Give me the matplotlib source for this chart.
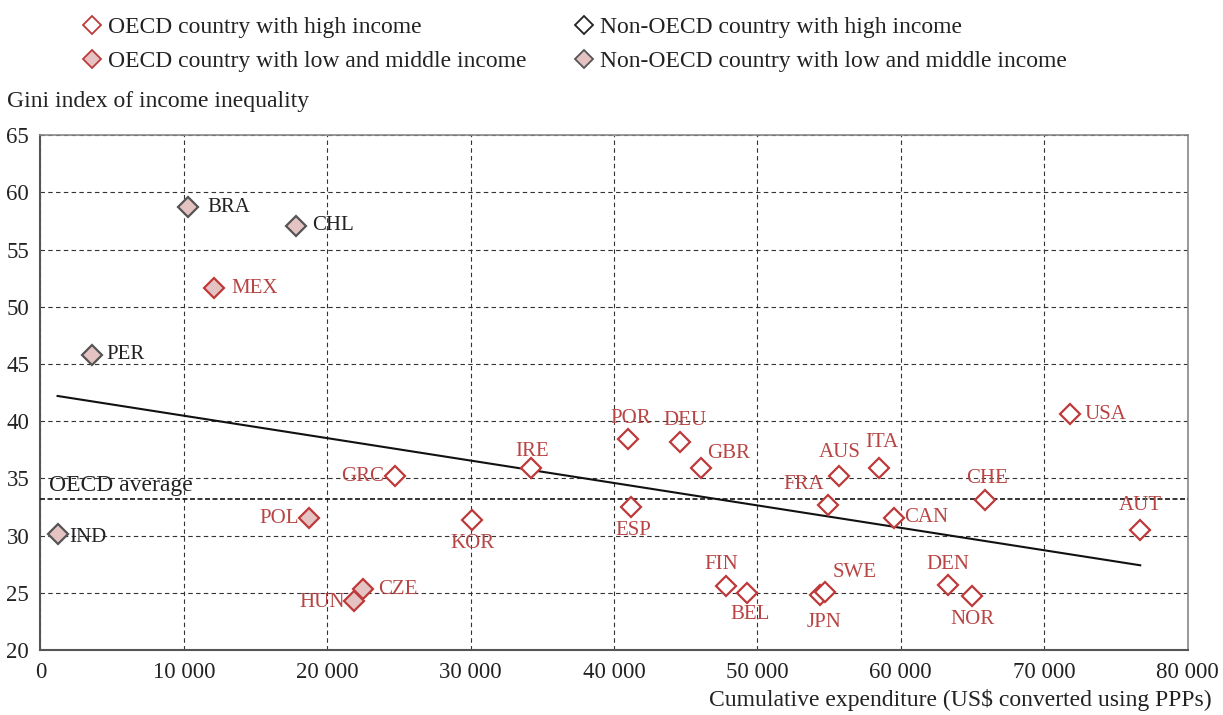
import matplotlib.pyplot as plt
from matplotlib.lines import Line2D

plt.rcParams['font.family'] = ['Liberation Serif', 'DejaVu Serif']

# data
countries = ['BRA', 'CHL', 'MEX', 'PER', 'IND', 'POL', 'HUN', 'CZE', 'GRC', 'KOR',
             'IRE', 'POR', 'ESP', 'DEU', 'GBR', 'FIN', 'BEL', 'JPN', 'SWE', 'FRA',
             'AUS', 'ITA', 'CAN', 'DEN', 'NOR', 'CHE', 'USA', 'AUT']
expenditure = [10300, 17800, 12100, 3600, 1200, 18700, 21900, 22500, 24700, 30100,
               34200, 41000, 41200, 44600, 46100, 47800, 49300, 54400, 54700, 54900,
               55700, 58500, 59500, 63300, 65000, 65900, 71800, 76700]
gini = [58.7, 57.1, 51.6, 45.8, 30.1, 31.5, 24.3, 25.3, 35.2, 31.4,
        35.9, 38.4, 32.5, 38.2, 35.9, 25.6, 25.0, 24.8, 25.1, 32.7,
        35.2, 35.9, 31.5, 25.7, 24.7, 33.1, 40.6, 30.5]
group = ['non_low', 'non_low', 'oecd_low', 'non_low', 'non_low', 'oecd_low', 'oecd_low',
         'oecd_low', 'oecd_high', 'oecd_high', 'oecd_high', 'oecd_high', 'oecd_high',
         'oecd_high', 'oecd_high', 'oecd_high', 'oecd_high', 'oecd_high', 'oecd_high',
         'oecd_high', 'oecd_high', 'oecd_high', 'oecd_high', 'oecd_high', 'oecd_high',
         'oecd_high', 'oecd_high', 'oecd_high']
trend_x = [1200, 76700]
trend_y = [42.2, 27.4]
oecd_average = 33.2

# label offsets in pixels (dx, dy, ha)
offsets = {
    'BRA': (19, 0, 'left'), 'CHL': (17, 0, 'left'), 'MEX': (18, 0, 'left'),
    'PER': (14, 0, 'left'), 'IND': (12, -3, 'left'), 'POL': (-10, 0, 'right'),
    'HUN': (-10, -2, 'right'), 'CZE': (15, 0, 'left'), 'GRC': (-11, 0, 'right'),
    'KOR': (0, -24, 'center'), 'IRE': (1, 17, 'center'), 'POR': (2, 21, 'center'),
    'ESP': (2, -24, 'center'), 'DEU': (5, 21, 'center'), 'GBR': (6, 15, 'left'),
    'FIN': (-5, 21, 'center'), 'BEL': (3, -22, 'center'), 'JPN': (4, -27, 'center'),
    'SWE': (8, 19, 'left'), 'FRA': (-24, 20, 'center'), 'AUS': (1, 24, 'center'),
    'ITA': (3, 26, 'center'), 'CAN': (11, 1, 'left'), 'DEN': (0, 20, 'center'),
    'NOR': (0, -23, 'center'), 'CHE': (2, 22, 'center'), 'USA': (15, 0, 'left'),
    'AUT': (0, 24, 'center'),
}

red = '#BE3A3A'
red_text = '#B84444'
pink = '#E6C3C3'
gray_edge = '#555555'
dark = '#222222'
styles = {
    'oecd_high': dict(mfc='white', mec=red),
    'non_high': dict(mfc='white', mec=dark),
    'oecd_low': dict(mfc=pink, mec=red),
    'non_low': dict(mfc=pink, mec=gray_edge),
}

fig = plt.figure(figsize=(12.23, 7.15), dpi=100)
ax = fig.add_axes([0.033, 0.091, 0.938, 0.72])

for c, x, y, g in zip(countries, expenditure, gini, group):
    ax.plot(x, y, linestyle='none', marker='D', markersize=10, markeredgewidth=1.6,
            zorder=4, **styles[g])
    dx, dy, ha = offsets[c]
    ax.annotate(c, (x, y), xytext=(dx, dy), textcoords='offset pixels', ha=ha, va='center',
                fontsize=15, color=red_text if g.startswith('oecd') else dark, zorder=5)

ax.plot(trend_x, trend_y, color='#111111', lw=1.5, zorder=3)
ax.axhline(oecd_average, color='#111111', lw=1.2, linestyle=(0, (3, 1.5)), zorder=3)
ax.text(600, oecd_average + 0.25, 'OECD average', fontsize=17, color=dark, va='bottom')

ax.set_xlim(0, 80000)
ax.set_ylim(20, 65)
ax.set_xticks(range(0, 80001, 10000))
ax.set_xticklabels(['0'] + ['%d 000' % (v // 1000) for v in range(10000, 80001, 10000)])
ax.set_yticks(range(20, 66, 5))
ax.tick_params(length=0, labelsize=16.5, colors=dark)
ax.tick_params(axis='x', pad=9)
ax.tick_params(axis='y', pad=8)
ax.grid(True, color='#333333', lw=0.8, linestyle=(0, (4, 3)))
ax.set_axisbelow(True)
for s in ['left', 'bottom']:
    ax.spines[s].set_color('#555555')
    ax.spines[s].set_linewidth(1.5)
for s in ['top', 'right']:
    ax.spines[s].set_color('#888888')
    ax.spines[s].set_linewidth(1.2)

fig.text(0.006, 0.858, 'Gini index of income inequality', fontsize=17, color=dark, va='center')
fig.text(0.991, 0.021, 'Cumulative expenditure (US$ converted using PPPs)', fontsize=17,
         color=dark, ha='right', va='center')

handles = [Line2D([], [], linestyle='none', marker='D', markersize=9, markeredgewidth=1.3, **styles[k])
           for k in ['oecd_high', 'oecd_low', 'non_high', 'non_low']]
labels = ['OECD country with high income', 'OECD country with low and middle income',
          'Non-OECD country with high income', 'Non-OECD country with low and middle income']
fig.legend(handles, labels, ncol=2, loc='upper left', bbox_to_anchor=(0.052, 1.007), frameon=False,
           fontsize=17, handlelength=0.6, handletextpad=0.4, columnspacing=2.1, labelspacing=0.55,
           labelcolor=dark)

fig.savefig('out.png', dpi=100)
